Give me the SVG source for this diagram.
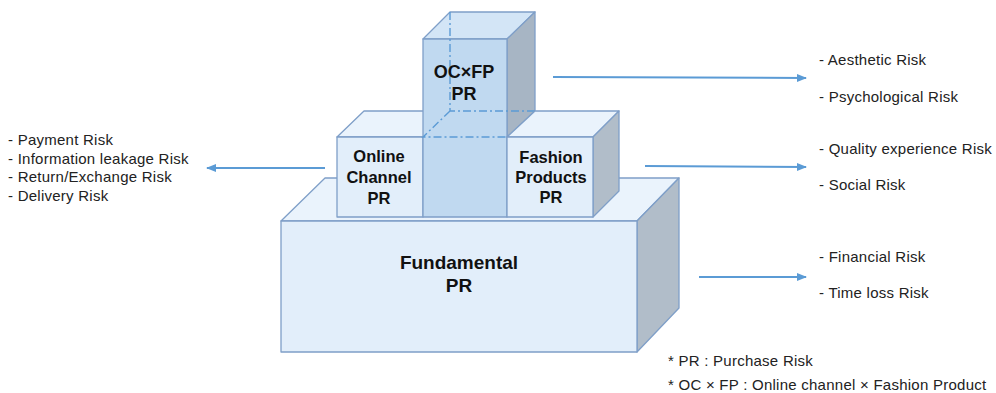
<svg xmlns="http://www.w3.org/2000/svg" width="996" height="393" viewBox="0 0 996 393">
<defs>
<marker id="ah" viewBox="0 0 10 10" refX="9" refY="5" markerWidth="5" markerHeight="5" orient="auto-start-reverse" markerUnits="strokeWidth">
<path d="M0,1 L10,5 L0,9 Z" fill="#5b9bd5"/>
</marker>
<style>
.face{stroke:#7f9fc8;stroke-width:1.3;stroke-linejoin:round}
.front{fill:#e2eefa}
.top{fill:#eaf3fc}
.side{fill:#b1bdc9}
.cfront{fill:#c0d9f0}
.ctop{fill:#d3e5f6}
.cside{fill:#a7b5c4}
.hid{stroke:#5b9bd5;stroke-width:1.4;stroke-dasharray:8 3 2 3;fill:none}
.lbl{font-family:"Liberation Sans",Arial,sans-serif;font-weight:bold;fill:#111;text-anchor:middle}
.risk{font-family:"Liberation Sans",Arial,sans-serif;font-size:15px;letter-spacing:0.25px;fill:#222}
.conn{stroke:#5b9bd5;stroke-width:2;fill:none}
</style>
</defs>
<rect width="996" height="393" fill="#ffffff"/>
<g id="fundamental">
<polygon class="face top" points="281,221 325,178 679,178 637,221"/>
<polygon class="face side" points="637,221 679,178 679,308 637,352"/>
<rect class="face front" x="281" y="221" width="356" height="131"/>
<text class="lbl" x="459" y="269" font-size="19">Fundamental</text>
<text class="lbl" x="459" y="292" font-size="19">PR</text>
</g>
<g id="online-channel">
<polygon class="face top" points="337,137 364,111 450,111 423,137"/>
<rect class="face front" x="337" y="137" width="86" height="80"/>
<text class="lbl" x="379" y="162" font-size="16.5">Online</text>
<text class="lbl" x="379" y="183" font-size="16.5">Channel</text>
<text class="lbl" x="379" y="204" font-size="16.5">PR</text>
</g>
<g id="ocxfp">
<polygon class="face ctop" points="423,39 450,12 535,12 507,39"/>
<polygon class="face cside" points="507,39 535,12 535,111 507,137"/>
<rect class="face cfront" x="423" y="39" width="84" height="178"/>
<path class="hid" d="M450,12 V111 H535 M450,111 L423,137 H507"/>
<text class="lbl" x="464" y="78" font-size="18">OC×FP</text>
<text class="lbl" x="464" y="100" font-size="18">PR</text>
</g>
<g id="fashion-products">
<polygon class="face top" points="507,137 535,111 619,111 593,137"/>
<polygon class="face side" points="593,137 619,111 619,191 593,217"/>
<rect class="face front" x="507" y="137" width="86" height="80"/>
<text class="lbl" x="551" y="163" font-size="16.5">Fashion</text>
<text class="lbl" x="551" y="183" font-size="16.5">Products</text>
<text class="lbl" x="551" y="203" font-size="16.5">PR</text>
</g>
<g id="connectors">
<line class="conn" x1="325" y1="168" x2="207" y2="168" marker-end="url(#ah)"/>
<line class="conn" x1="553" y1="77" x2="806" y2="78" marker-end="url(#ah)"/>
<line class="conn" x1="645" y1="166" x2="806" y2="167" marker-end="url(#ah)"/>
<line class="conn" x1="699" y1="277" x2="806" y2="277" marker-end="url(#ah)"/>
</g>
<g id="left-risks">
<text class="risk" x="8" y="145">- Payment Risk</text>
<text class="risk" x="8" y="164">- Information leakage Risk</text>
<text class="risk" x="8" y="182">- Return/Exchange Risk</text>
<text class="risk" x="8" y="201">- Delivery Risk</text>
</g>
<g id="right-risks">
<text class="risk" x="819" y="65">- Aesthetic Risk</text>
<text class="risk" x="819" y="102">- Psychological Risk</text>
<text class="risk" x="819" y="154">- Quality experience Risk</text>
<text class="risk" x="819" y="190">- Social Risk</text>
<text class="risk" x="819" y="262">- Financial Risk</text>
<text class="risk" x="819" y="298">- Time loss Risk</text>
</g>
<g id="notes">
<text class="risk" x="668" y="366">* PR : Purchase Risk</text>
<text class="risk" x="668" y="390">* OC × FP : Online channel × Fashion Product</text>
</g>
</svg>
